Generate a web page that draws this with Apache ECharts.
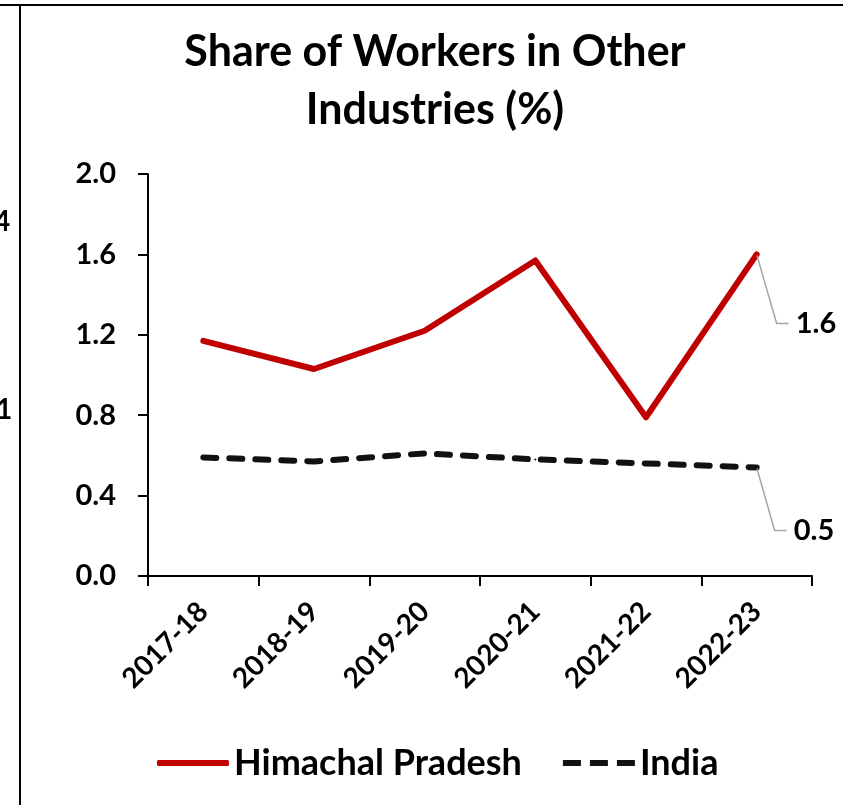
<!DOCTYPE html>
<html>
<head>
<meta charset="utf-8">
<script src="https://cdn.jsdelivr.net/npm/echarts@6/dist/echarts.min.js"></script>
<style>
  html, body { margin: 0; padding: 0; background: #fff; }
  #chart { width: 843px; height: 805px; }
</style>
</head>
<body>
<div id="chart"></div>
<script>
// 数据
var years = ['2017-18', '2018-19', '2019-20', '2020-21', '2021-22', '2022-23'];
var himachal = [1.17, 1.03, 1.22, 1.57, 0.79, 1.60];
var india = [0.59, 0.57, 0.61, 0.58, 0.56, 0.54];
var yTicks = { min: 0, max: 2.0, interval: 0.4 };

var font = 'Lato';

var chart = echarts.init(document.getElementById('chart'));

// 只在最后一个点显示数值标签(前后加空格, 让引导线连到左侧)
function lastLabel(arr) {
    return arr.map(function (v, i) {
        if (i !== arr.length - 1) return v;
        return {
            value: v,
            label: {
                show: true,
                position: 'right',
                formatter: function (p) { return ' ' + p.value.toFixed(1) + '    '; },
                fontFamily: font,
                fontWeight: 'bold',
                fontSize: 29,
                color: '#000'
            }
        };
    });
}

// 引导线
var guideLine = {
    show: true,
    length2: 12,
    lineStyle: { color: '#a6a6a6', width: 1.5 }
};

var option = {
    animation: false,
    backgroundColor: '#fff',
    title: {
        text: 'Share of Workers in Other\nIndustries (%)',
        left: 430,
        textAlign: 'center',
        top: 18,
        textStyle: {
            fontFamily: font,
            fontWeight: 'bold',
            fontSize: 43,
            lineHeight: 58,
            color: '#000'
        }
    },
    grid: { left: 148, right: 31, top: 174, bottom: 229 },
    legend: {
        bottom: 19,
        left: 152,
        itemWidth: 72,
        itemHeight: 6,
        itemGap: 41,
        textStyle: { fontFamily: font, fontWeight: 'bold', fontSize: 36, color: '#000' },
        data: [
            { name: 'Himachal Pradesh', icon: 'roundRect' },
            { name: 'India', icon: 'path://M0,0h18v6h-18z M27,0h18v6h-18z M54,0h18v6h-18z' }
        ]
    },
    xAxis: {
        type: 'category',
        data: years,
        boundaryGap: true,
        axisLine: { lineStyle: { color: '#000', width: 2 } },
        axisTick: { show: true, length: 10, lineStyle: { color: '#000', width: 2 } },
        axisLabel: {
            rotate: 45,
            margin: 31,
            fontFamily: font,
            fontWeight: 'bold',
            fontSize: 28,
            color: '#000'
        }
    },
    yAxis: {
        type: 'value',
        min: yTicks.min,
        max: yTicks.max,
        interval: yTicks.interval,
        axisLine: { show: true, lineStyle: { color: '#000', width: 2 } },
        axisTick: { show: true, length: 10, lineStyle: { color: '#000', width: 2 } },
        splitLine: { show: false },
        axisLabel: {
            margin: 32,
            fontFamily: font,
            fontWeight: 'bold',
            fontSize: 29,
            color: '#000',
            formatter: function (v) { return v.toFixed(1); }
        }
    },
    series: [
        {
            name: 'Himachal Pradesh',
            type: 'line',
            data: lastLabel(himachal),
            symbol: 'circle',
            symbolSize: 2,
            lineStyle: { color: '#c00000', width: 6, cap: 'round', join: 'round' },
            itemStyle: { color: '#c00000' },
            labelLine: guideLine,
            labelLayout: { dx: 26, dy: 69 }
        },
        {
            name: 'India',
            type: 'line',
            data: lastLabel(india),
            symbol: 'circle',
            symbolSize: 2,
            lineStyle: { color: '#111', width: 6, type: [13, 13], cap: 'round', join: 'round' },
            itemStyle: { color: '#111' },
            labelLine: guideLine,
            labelLayout: { dx: 24, dy: 63 }
        }
    ],
    graphic: [
        // 外框线
        { type: 'line', shape: { x1: 0, y1: 5, x2: 843, y2: 5 }, style: { stroke: '#000', lineWidth: 2 } },
        { type: 'line', shape: { x1: 20, y1: 5, x2: 20, y2: 805 }, style: { stroke: '#000', lineWidth: 2 } },
        { type: 'text', left: -6, top: 208, style: { text: '4', font: 'bold 28px Lato', fill: '#000' } },
        { type: 'text', left: -4, top: 396, style: { text: '1', font: 'bold 28px Lato', fill: '#000' } }
    ]
};

chart.setOption(option);
</script>
</body>
</html>
